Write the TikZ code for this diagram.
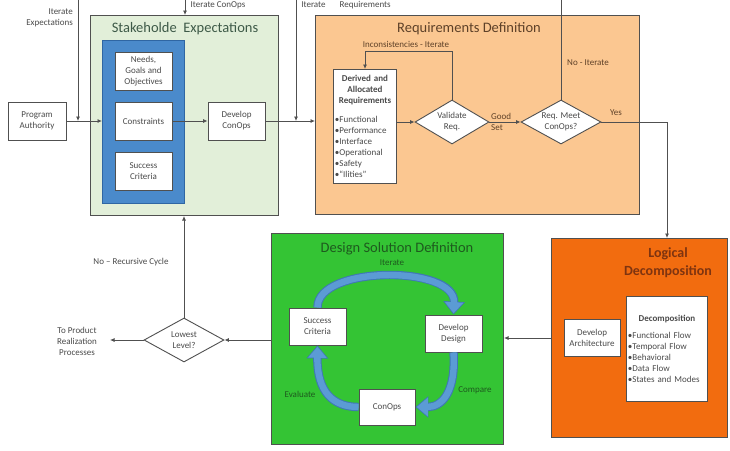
\documentclass[tikz,border=0pt]{standalone}
\usepackage{fontspec}
\setmainfont{Carlito}
\usetikzlibrary{arrows.meta,shapes.geometric}
\definecolor{txt}{HTML}{4A4A4A}
\definecolor{ln}{HTML}{505050}
\definecolor{segreen}{HTML}{E2EFD9}
\definecolor{seblue}{HTML}{4A8ACB}
\definecolor{sebluedk}{HTML}{2F66A3}
\definecolor{reqor}{HTML}{FBC791}
\definecolor{logor}{HTML}{F26C0F}
\definecolor{desgr}{HTML}{34C434}
\definecolor{cyc}{HTML}{5B9BD5}
\definecolor{cycdk}{HTML}{3F78B5}
\definecolor{setitle}{HTML}{3E5A48}
\definecolor{reqtitle}{HTML}{5E4128}
\definecolor{logtitle}{HTML}{7E3410}
\definecolor{destitle}{HTML}{1E5A1E}
\newcommand\smf{\fontsize{9}{11}\selectfont}
\newcommand\ttf{\fontsize{14.5}{17}\selectfont}
\begin{document}
\begin{tikzpicture}[x=1pt,y=-1pt,
  lbl/.style={font=\smf, text=txt, align=center, inner sep=1pt},
  wbox/.style={draw=ln, line width=0.9pt, fill=white, font=\smf, text=txt, align=center, inner sep=1pt},
  dbox/.style={draw=ln, line width=0.9pt, fill=white, diamond, aspect=1.8, inner sep=0pt, font=\smf, text=txt, align=center},
  bigbox/.style={line width=1pt, anchor=north west, inner sep=0pt},
  ttl/.style={font=\ttf, align=center, inner sep=0pt},
  arr/.style={draw=ln, line width=0.8pt, -{Latex[length=4.5pt,width=4pt]}},
  pl/.style={draw=ln, line width=0.8pt},
  cycarr/.style={line width=8.4pt, draw=cycdk, -{Triangle[length=13pt,width=21pt]}},
  cycin/.style={line width=6.4pt, draw=cyc, -{Triangle[length=11pt,width=18pt]}, shorten >=1.3pt}
]
\useasboundingbox (0,0) rectangle (730,450);
\fill[white] (0,0) rectangle (730,450);

% ---------- Stakeholder expectations ----------
\node[bigbox, draw=ln, fill=segreen, minimum width=188pt, minimum height=200pt] (se) at (90,15) {};
\node[ttl, text=setitle] (setitle) at (185,29) {Stakeholde\ \ Expectations};
\node[bigbox, draw=sebluedk, fill=seblue, line width=0.6pt, minimum width=82pt, minimum height=163pt] (blue) at (102,40) {};
\node[wbox, minimum width=57pt, minimum height=38pt] (needs) at (143.5,71) {Needs,\\Goals and\\Objectives};
\node[wbox, minimum width=57pt, minimum height=38pt] (cons) at (143.5,121) {Constraints};
\node[wbox, minimum width=57pt, minimum height=38pt] (succ) at (143.5,171) {Success\\Criteria};
\node[wbox, minimum width=57pt, minimum height=38pt] (devc) at (236.5,121) {Develop\\ConOps};
\node[wbox, minimum width=58pt, minimum height=38pt] (pa) at (37,121) {Program\\Authority};

% ---------- Requirements definition ----------
\node[bigbox, draw=ln, fill=reqor, minimum width=324pt, minimum height=199pt] (req) at (315,15) {};
\node[ttl, text=reqtitle] (reqt) at (469,29) {Requirements Definition};
\node[wbox, anchor=north west, minimum width=63pt, minimum height=114pt, text width=60pt, align=left, inner sep=1.5pt] (der) at (333,69)
 {{\centering\bfseries Derived and\\Allocated\\Requirements\par}\vspace{8pt}%
  •Functional\\•Performance\\•Interface\\•Operational\\•Safety\\•“Ilities”};
\node[dbox, minimum width=74pt, minimum height=44pt] (val) at (452,122) {Validate\\Req.};
\node[dbox, minimum width=80pt, minimum height=44pt] (meet) at (561,122) {Req. Meet\\ConOps?};
\node[lbl, text=reqtitle] (incl) at (406,44) {Inconsistencies - Iterate};
\node[lbl, text=reqtitle, align=left, anchor=west] (good) at (490,122) {Good\\Set};
\node[lbl, text=reqtitle] (noit) at (588,63) {No - Iterate};
\node[lbl, text=reqtitle] (yes) at (616,113) {Yes};

% ---------- Logical decomposition ----------
\node[bigbox, draw=ln, fill=logor, minimum width=176pt, minimum height=199pt] (log) at (551,238) {};
\node[ttl, text=logtitle, font=\fontsize{14}{18}\selectfont\bfseries] (logt) at (668,263) {Logical\\Decomposition};
\node[wbox, minimum width=56pt, minimum height=37pt] (darch) at (592,338) {Develop\\Architecture};
\node[wbox, anchor=north west, minimum width=81pt, minimum height=105pt, text width=78pt, align=left, inner sep=1.5pt] (dec) at (626,296)
 {{\centering\bfseries Decomposition\par}\vspace{6pt}%
  •Functional Flow\\•Temporal Flow\\•Behavioral\\•Data Flow\\•States and Modes};

% ---------- Design solution definition ----------
\node[bigbox, draw=ln, fill=desgr, minimum width=232pt, minimum height=211pt] (des) at (271,233) {};
\node[ttl, text=destitle] (dest) at (397,249) {Design Solution Definition};
\node[wbox, minimum width=57pt, minimum height=37pt] (sc2) at (317.5,326.5) {Success\\Criteria};
\node[wbox, minimum width=57pt, minimum height=37pt] (dd) at (453.5,333.5) {Develop\\Design};
\node[wbox, minimum width=56pt, minimum height=36pt] (cop) at (387,407) {ConOps};
\node[lbl, text=destitle] (itl) at (392,263) {Iterate};
\node[lbl, text=destitle] (cmpl) at (475,390) {Compare};
\node[lbl, text=destitle] (evl) at (300,394) {Evaluate};

% cycle arrows
\draw[cycarr] (sc2.north) .. controls (317,265) and (456,265) .. (dd.north);
\draw[cycin]  (sc2.north) .. controls (317,265) and (456,265) .. (dd.north);
\draw[cycarr] (dd.south) .. controls (456,392) and (442,407) .. (cop.east);
\draw[cycin]  (dd.south) .. controls (456,392) and (442,407) .. (cop.east);
\draw[cycarr] (cop.west) .. controls (333,407) and (317,392) .. (sc2.south);
\draw[cycin]  (cop.west) .. controls (333,407) and (317,392) .. (sc2.south);

% ---------- Lowest level ----------
\node[dbox, minimum width=80pt, minimum height=44pt] (low) at (184,340) {Lowest\\Level?};
\node[lbl] (nrc) at (131,262) {No – Recursive Cycle};
\node[lbl] (tpr) at (77,341) {To Product\\Realization\\Processes};
\coordinate (tprin) at (110,340);

% ---------- top labels ----------
\node[lbl, align=right, anchor=east] (itexp) at (74,18) {Iterate\\Expectations};
\node[lbl, anchor=north] (itcon) at (218,0.5) {Iterate ConOps};
\node[lbl, anchor=north] (itreq) at (346,0.5) {Iterate\hspace{14pt}Requirements};

\coordinate (ietop) at (78,-2);
\coordinate (iebot) at (78,121);
\coordinate (ictop) at (185,-2);
\coordinate (irtop) at (296,-2);
\coordinate (irbot) at (296,121);
\coordinate (notop) at (561,-2);
\coordinate (yesc) at (667,122);
\coordinate (incR) at (452,51);
\coordinate (incL) at (365,51);

% ---------- connectors ----------
\draw[arr] (pa.east) -- (blue.west |- pa.east);
\draw[arr] (ietop) -- (iebot);
\draw[arr] (ictop) -- (se.north -| ictop);
\draw[arr] (cons.east) -- (devc.west);
\draw[arr] (devc.east) -- (req.west |- devc.east);
\draw[arr] (irtop) -- (irbot);
\draw[pl] (meet.north) -- (notop);
\draw[arr] (der.east |- val.west) -- (val.west);
\draw[arr] (val.north) -- (incR) -- (incL) -- (incL |- der.north);
\draw[arr] (val.east) -- (meet.west);
\draw[arr] (meet.east) -- (yesc) -- (yesc |- log.north);
\draw[arr] (log.west |- darch.west) -- (des.east |- darch.west);
\draw[arr] (des.west |- low.east) -- (low.east);
\draw[arr] (low.west) -- (tprin);
\draw[arr] (low.north) -- (low.north |- se.south);
\end{tikzpicture}
\end{document}
